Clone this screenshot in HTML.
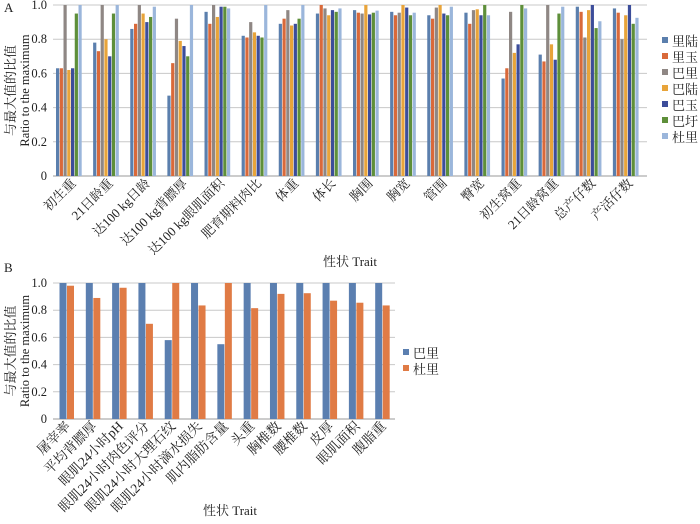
<!DOCTYPE html>
<html><head><meta charset="utf-8">
<style>
body{margin:0;background:#fff;width:700px;height:519px;overflow:hidden}
svg text{font-family:"Liberation Serif","Noto Serif CJK SC",serif;fill:#222}
</style></head>
<body>
<svg id="chart" width="700" height="519" viewBox="0 0 700 519" xmlns="http://www.w3.org/2000/svg"></svg>
<script>
const catsA=["初生重","21日龄重","达100 kg日龄","达100 kg背膘厚","达100 kg眼肌面积","肥育期料肉比","体重","体长","胸围","胸宽","管围","臀宽","初生窝重","21日龄窝重","总产仔数","产活仔数"];
const seriesA=["里陆","里玉","巴里","巴陆","巴玉","巴圩","杜里"];
const s_lilu=[0.63,0.78,0.86,0.47,0.96,0.82,0.89,0.95,0.97,0.96,0.94,0.955,0.57,0.71,0.99,0.98];
const s_liyu=[0.63,0.73,0.89,0.66,0.89,0.81,0.92,1.0,0.955,0.94,0.92,0.89,0.63,0.67,0.96,0.955];
const s_bali=[1.0,1.0,1.0,0.92,1.0,0.90,0.97,0.98,0.95,0.955,0.985,0.97,0.96,1.0,0.81,0.80];
const s_balu=[0.62,0.80,0.95,0.79,0.93,0.84,0.88,0.94,1.0,1.0,1.0,0.975,0.72,0.77,0.97,0.94];
const s_bayu=[0.63,0.70,0.90,0.76,0.99,0.82,0.89,0.97,0.945,0.985,0.95,0.94,0.77,0.68,1.0,1.0];
const s_bawei=[0.95,0.95,0.93,0.70,0.99,0.81,0.92,0.96,0.955,0.94,0.94,1.0,1.0,0.95,0.865,0.89];
const s_duli=[1.0,1.0,0.99,1.0,0.98,1.0,1.0,0.98,0.967,0.955,0.99,0.94,0.98,0.99,0.905,0.925];
const valuesA=[s_lilu,s_liyu,s_bali,s_balu,s_bayu,s_bawei,s_duli];
const colorsA=["#5b7fad","#d9693a","#8f8784","#e8a43a","#3c4d9a","#5e8f3a","#9bb6db"];
const catsB=["屠宰率","平均背膘厚","眼肌24小时pH","眼肌24小时肉色评分","眼肌24小时大理石纹","眼肌24小时滴水损失","肌内脂肪含量","头重","胸椎数","腰椎数","皮厚","眼肌面积","腹脂重"];
const seriesB=["巴里","杜里"];
const b_bali=[1,1,1,1,0.58,1,0.55,1,1,1,1,1,1];
const b_duli=[0.98,0.89,0.965,0.70,1,0.835,1,0.815,0.92,0.925,0.87,0.855,0.835];
const valuesB=[b_bali,b_duli];
const colorsB=["#5b7fb0","#e07b45"];
const ticks=["0","0.2","0.4","0.6","0.8","1.0"];
const tickVals=[0,0.2,0.4,0.6,0.8,1.0];

const svg=document.getElementById('chart');
const NS="http://www.w3.org/2000/svg";
function mk(tag,at,txt){const e=document.createElementNS(NS,tag);for(const k in at)e.setAttribute(k,at[k]);if(txt!==undefined)e.textContent=txt;svg.appendChild(e);return e;}

function panel(p){
  const y=v=>p.y0-(p.y0-p.y1)*v;
  const gw=(p.x1-p.x0)/p.cats.length;
  tickVals.forEach((tv,i)=>{
    const g=mk('line',{x1:p.x0,x2:p.x1,y1:y(tv),y2:y(tv),stroke:tv===0?'#999':'#c8c8c8','stroke-width':1});
    
    
    const t=mk('text',{x:p.x0-6,y:y(tv)+4,'text-anchor':'end','font-size':12.5},ticks[i]);
    
    
  });
  p.cats.forEach((c,ci)=>{
    const gx=p.x0+ci*gw;
    p.vals.forEach((arr,si)=>{
      const bx=gx+p.off+si*p.pitch;
      const r=mk('rect',{x:bx,y:y(arr[ci]),width:p.bw,height:y(0)-y(arr[ci]),fill:p.colors[si]});
      
      
    });
    const cx=gx+gw/2+5, cy=p.y0+8;
    const t=mk('text',{x:cx,y:cy,'text-anchor':'end','font-size':p.xfs,transform:`rotate(-45 ${cx} ${cy})`},c);
    
    
  });
  p.series.forEach((s,si)=>{
    const ly=p.ly+si*p.lstep;
    const r=mk('rect',{x:p.lx,y:ly-4,width:6,height:6,fill:p.colors[si]});
    
    
    const t=mk('text',{x:p.lx+10,y:ly+5,'font-size':13},s);
    
    
  });
  const yc=(p.y0+p.y1)/2;
  const t1=mk('text',{x:15,y:yc,'text-anchor':'middle','font-size':13,transform:`rotate(-90 15 ${yc})`},'与最大值的比值');
  
  
  const t2=mk('text',{x:29,y:yc,'text-anchor':'middle','font-size':12.5,transform:`rotate(-90 29 ${yc})`},'Ratio to the maximum');
  
  
  const xt=mk('text',{x:p.xtx,y:p.xty,'text-anchor':'middle','font-size':13},'性状 Trait');
  
  
  const pl=mk('text',{x:4,y:p.labY,'font-size':13},p.label);
  
  
}
panel({cats:catsA,series:seriesA,vals:valuesA,colors:colorsA,x0:53,x1:647,y0:176,y1:5,off:3,pitch:3.75,bw:3.2,lx:662,ly:41,lstep:16,xtx:350,xty:266,label:'A',labY:12,xfs:13});
panel({cats:catsB,series:seriesB,vals:valuesB,colors:colorsB,x0:53,x1:395,y0:419,y1:283,off:6.5,pitch:7.5,bw:7,lx:403,ly:353,lstep:16,xtx:230,xty:515,label:'B',labY:272,xfs:13.5});
</script>
</body></html>
